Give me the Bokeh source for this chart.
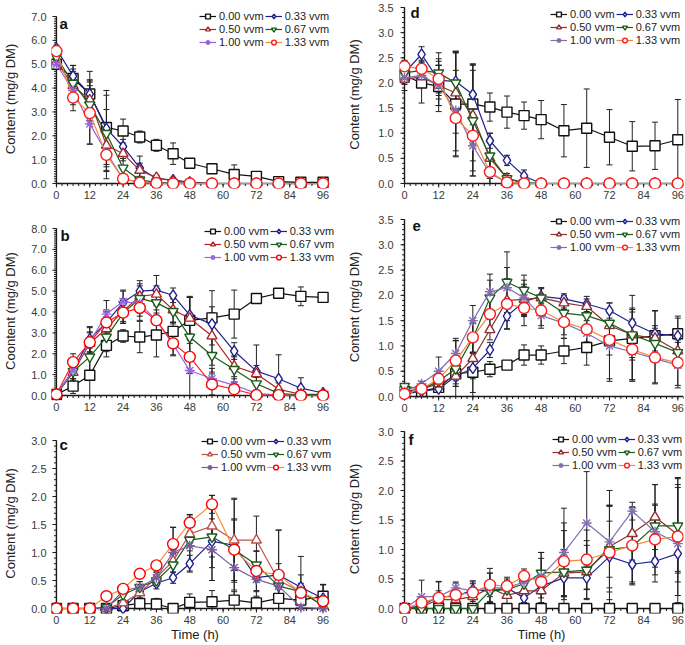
import numpy as np
from bokeh.plotting import figure
from bokeh.models import (Range1d, FixedTicker, SingleIntervalTicker, NumeralTickFormatter,
                          Whisker, TeeHead, ColumnDataSource, Legend, LegendItem, Label)
from bokeh.layouts import row, column
from bokeh.embed import file_html
from bokeh.resources import INLINE

FONT = "Liberation Sans"

# ---------------- data ----------------
time_h = [0, 6, 12, 18, 24, 30, 36, 42, 48, 56, 64, 72, 80, 88, 96]
x_ticks = [0, 12, 24, 36, 48, 60, 72, 84, 96]
series_labels = ["0.00 vvm", "0.33 vvm", "0.50 vvm", "0.67 vvm", "1.00 vvm", "1.33 vvm"]
series_markers = ["square", "diamond", "triangle", "inverted_triangle", "asterisk", "circle"]
marker_sizes = [10, 11, 10, 10, 10, 11]

# panel a
a_000 = [5.0, 4.4, 3.75, 2.35, 2.2, 1.95, 1.6, 1.25, 0.85, 0.62, 0.38, 0.3, 0.08, 0.05, 0.05]
a_033 = [5.65, 4.5, 3.75, 2.3, 1.55, 0.65, 0.2, 0.15, 0.05, 0, 0, 0, 0, 0, 0]
a_050 = [5.1, 4.1, 3.5, 1.6, 1.25, 0.55, 0.25, 0.1, 0.05, 0, 0, 0, 0, 0, 0]
a_067 = [5.3, 4.2, 3.3, 2.1, 0.65, 0.15, 0.05, 0.02, 0, 0, 0, 0, 0, 0, 0]
a_100 = [5.0, 3.9, 2.5, 1.3, 0.2, 0.05, 0.02, 0, 0, 0, 0, 0, 0, 0, 0]
a_133 = [5.55, 3.6, 2.95, 1.2, 0.2, 0.03, 0.02, 0, 0, 0, 0, 0, 0, 0, 0]
a_000_err = [0.15, 0.55, 0.95, 1.55, 0.5, 0.25, 0.25, 0.45, 0.12, 0.12, 0.4, 0.15, 0.05, 0.05, 0.05]
a_033_err = [0.15, 0.45, 0.55, 0.8, 0.3, 0.5, 0.12, 0.1, 0.05, 0, 0, 0, 0, 0, 0]
a_050_err = [0.2, 0.7, 0.85, 0.9, 0.3, 0.3, 0.1, 0.05, 0, 0, 0, 0, 0, 0, 0]
a_067_err = [0.2, 0.5, 0.8, 1.6, 0.4, 0.15, 0.05, 0, 0, 0, 0, 0, 0, 0, 0]
a_100_err = [0.2, 0.6, 0.85, 0.75, 0.2, 0.05, 0, 0, 0, 0, 0, 0, 0, 0, 0]
a_133_err = [0.2, 0.55, 1.3, 1.0, 0.15, 0.05, 0, 0, 0, 0, 0, 0, 0, 0, 0]

# panel b
b_000 = [0.05, 0.45, 0.97, 2.4, 2.85, 2.8, 2.9, 3.07, 3.6, 3.72, 3.9, 4.65, 4.9, 4.75, 4.7]
b_033 = [0.05, 1.2, 2.7, 3.5, 4.45, 5.0, 5.05, 4.8, 3.85, 3.42, 2.13, 1.17, 0.8, 0.35, 0.12]
b_050 = [0.05, 1.1, 2.5, 3.2, 4.05, 4.75, 4.85, 4.1, 3.7, 2.85, 1.4, 1.04, 0.3, 0.05, 0.05]
b_067 = [0.05, 1.15, 1.85, 2.8, 3.95, 4.65, 4.45, 4.03, 2.8, 1.92, 1.25, 0.56, 0.1, 0.02, 0.05]
b_100 = [0.05, 1.2, 2.55, 3.9, 4.5, 4.4, 3.6, 2.45, 1.2, 0.8, 0.5, 0.1, 0.02, 0.0, 0.0]
b_133 = [0.05, 1.6, 2.55, 3.5, 3.97, 4.2, 3.6, 2.5, 1.85, 0.53, 0.3, 0.02, 0.02, 0.0, 0.0]
b_000_err = [0.05, 0.35, 1.3, 0.55, 0.3, 0.75, 1.05, 0.45, 1.1, 1.3, 1.15, 0.1, 0.1, 0.45, 0.1]
b_033_err = [0.05, 0.4, 0.6, 0.6, 0.6, 0.5, 0.7, 0.35, 0.9, 0.55, 0.4, 1.25, 1.15, 0.5, 0.1]
b_050_err = [0.05, 0.5, 0.5, 0.8, 0.5, 0.5, 0.4, 0.6, 1.0, 1.4, 0.5, 0.4, 0.3, 0.05, 0.05]
b_067_err = [0.05, 0.5, 0.9, 0.7, 0.5, 0.7, 0.6, 0.6, 1.0, 0.8, 0.6, 0.3, 0.1, 0.02, 0.05]
b_100_err = [0.05, 0.5, 0.7, 0.65, 0.5, 0.6, 0.5, 0.5, 3.5, 0.5, 0.3, 0.1, 0.02, 0, 0]
b_133_err = [0.05, 0.4, 0.5, 0.5, 0.5, 0.6, 0.7, 0.6, 0.8, 0.5, 0.3, 0.05, 0.02, 0, 0]

# panel c
c_000 = [0, 0, 0, 0, 0.05, 0.09, 0.08, 0.0, 0.11, 0.12, 0.15, 0.1, 0.18, 0.15, 0.22]
c_033 = [0, 0, 0, 0, 0.0, 0.3, 0.45, 0.55, 0.8, 1.2, 1.13, 0.55, 0.6, 0.38, 0.18]
c_050 = [0, 0, 0, 0, 0.1, 0.28, 0.55, 0.85, 1.33, 1.47, 1.22, 1.22, 0.5, 0.3, 0.05]
c_067 = [0, 0, 0, 0.02, 0.25, 0.38, 0.5, 0.78, 1.22, 1.28, 1.05, 0.78, 0.4, 0.3, 0.05]
c_100 = [0, 0, 0, 0, 0.32, 0.38, 0.55, 1.0, 1.12, 1.05, 0.73, 0.52, 0.4, 0.02, 0.0]
c_133 = [0, 0, 0, 0.22, 0.35, 0.62, 0.77, 1.15, 1.53, 1.86, 1.05, 0.67, 0.6, 0.28, 0.13]
c_000_err = [0, 0, 0, 0.05, 0.05, 0.1, 0.1, 0.02, 0.15, 0.2, 0.15, 0.1, 0.2, 0.1, 0.2]
c_033_err = [0, 0, 0, 0, 0.02, 0.05, 0.1, 0.1, 0.15, 0.7, 0.45, 0.25, 0.8, 0.55, 0.25]
c_050_err = [0, 0, 0, 0, 0.05, 0.1, 0.1, 0.2, 0.3, 0.55, 0.75, 0.43, 0.9, 0.3, 0.1]
c_067_err = [0, 0, 0, 0.02, 0.1, 0.1, 0.1, 0.2, 0.45, 0.55, 0.55, 0.25, 0.2, 0.15, 0.05]
c_100_err = [0, 0, 0, 0, 0.05, 0.1, 0.1, 0.45, 0.45, 0.55, 0.4, 0.3, 0.2, 0.05, 0.02]
c_133_err = [0, 0, 0, 0.05, 0.05, 0.05, 0.05, 0.3, 0.15, 0.16, 0.9, 0.35, 0.2, 0.1, 0.3]

# panel d
d_000 = [2.15, 2.0, 1.93, 1.58, 1.58, 1.52, 1.42, 1.35, 1.27, 1.05, 1.1, 0.92, 0.74, 0.75, 0.87]
d_033 = [2.2, 2.57, 2.05, 2.03, 1.77, 0.85, 0.46, 0.15, 0, 0, 0, 0, 0, 0, 0]
d_050 = [2.07, 2.12, 1.95, 1.8, 1.35, 0.5, 0.1, 0, 0, 0, 0, 0, 0, 0, 0]
d_067 = [2.2, 2.25, 2.2, 2.0, 1.25, 0.55, 0.1, 0.02, 0, 0, 0, 0, 0, 0, 0]
d_100 = [2.1, 2.15, 1.95, 1.45, 0.75, 0.2, 0.02, 0, 0, 0, 0, 0, 0, 0, 0]
d_133 = [2.33, 2.28, 2.08, 1.3, 0.95, 0.23, 0.02, 0, 0, 0, 0, 0, 0, 0, 0]
d_000_err = [0.3, 0.4, 0.5, 1.05, 0.8, 0.28, 0.32, 0.27, 0.38, 0.52, 0.78, 0.55, 0.49, 0.47, 0.8]
d_033_err = [0.1, 0.15, 0.3, 0.6, 0.6, 0.15, 0.1, 0.12, 0, 0, 0, 0, 0, 0, 0]
d_050_err = [0.1, 0.2, 0.4, 0.8, 0.9, 0.4, 0.1, 0, 0, 0, 0, 0, 0, 0, 0]
d_067_err = [0.1, 0.2, 0.4, 0.6, 1.1, 0.45, 0.1, 0.02, 0, 0, 0, 0, 0, 0, 0]
d_100_err = [0.1, 0.2, 0.4, 0.8, 0.6, 0.3, 0.05, 0, 0, 0, 0, 0, 0, 0, 0]
d_133_err = [0.1, 0.3, 0.4, 0.75, 0.7, 0.3, 0.05, 0, 0, 0, 0, 0, 0, 0, 0]

# panel e
e_000 = [0.1, 0.1, 0.18, 0.45, 0.48, 0.54, 0.62, 0.82, 0.82, 0.9, 0.97, 1.1, 1.15, 1.2, 1.24]
e_033 = [0.05, 0.1, 0.15, 0.4, 0.56, 0.92, 1.59, 1.88, 1.98, 1.93, 1.83, 1.7, 1.45, 1.24, 1.2]
e_050 = [0.1, 0.15, 0.25, 0.4, 0.75, 1.32, 1.9, 1.92, 1.95, 1.85, 1.78, 1.4, 1.22, 1.15, 0.9]
e_067 = [0.2, 0.15, 0.3, 0.55, 1.15, 1.95, 2.26, 2.1, 1.95, 1.65, 1.6, 1.45, 1.22, 1.05, 0.87]
e_100 = [0.1, 0.25, 0.5, 0.85, 1.5, 2.07, 2.15, 1.95, 1.6, 1.45, 1.25, 1.0, 0.88, 0.75, 0.62]
e_133 = [0.05, 0.15, 0.35, 0.71, 1.17, 1.63, 1.83, 1.75, 1.7, 1.47, 1.33, 1.12, 0.93, 0.77, 0.67]
e_000_err = [0.05, 0.05, 0.1, 0.2, 0.4, 0.15, 0.05, 0.2, 0.18, 0.25, 0.35, 0.75, 0.85, 0.5, 0.35]
e_033_err = [0.05, 0.05, 0.05, 0.2, 0.6, 0.15, 0.25, 0.3, 0.15, 0.1, 0.15, 0.15, 0.3, 0.45, 0.35]
e_050_err = [0.05, 0.05, 0.1, 0.2, 0.4, 0.2, 0.4, 0.3, 0.2, 0.15, 0.15, 0.25, 0.5, 0.25, 0.3]
e_067_err = [0.05, 0.05, 0.1, 0.6, 0.3, 0.35, 0.6, 0.3, 0.2, 0.2, 0.2, 0.25, 0.45, 0.3, 0.3]
e_100_err = [0.05, 0.05, 0.28, 0.25, 0.3, 0.35, 0.4, 0.35, 0.25, 0.3, 0.25, 0.7, 0.55, 0.5, 0.45]
e_133_err = [0.05, 0.05, 0.15, 0.4, 0.3, 0.3, 0.5, 0.35, 0.3, 0.25, 0.25, 0.3, 0.6, 0.5, 0.45]

# panel f
f_000 = [0.0, 0.0, 0.0, 0.0, 0.0, 0.0, 0.0, 0.0, 0.0, 0.0, 0.0, 0.0, 0.0, 0.0, 0.0]
f_033 = [0, 0.05, 0.2, 0.2, 0.32, 0.3, 0.35, 0.18, 0.38, 0.52, 0.52, 0.88, 0.75, 0.8, 0.93]
f_050 = [0, 0.03, 0.15, 0.15, 0.2, 0.35, 0.22, 0.3, 0.3, 0.6, 0.62, 1.05, 1.27, 1.55, 1.25]
f_067 = [0, 0, 0, 0, 0, 0.3, 0.32, 0.42, 0.6, 0.62, 0.65, 1.0, 1.05, 1.4, 1.4]
f_100 = [0, 0.2, 0.2, 0.35, 0.3, 0.35, 0.35, 0.45, 0.55, 0.95, 1.45, 1.13, 1.65, 1.3, 1.1]
f_133 = [0, 0.1, 0.18, 0.23, 0.27, 0.4, 0.38, 0.55, 0.45, 0.8, 0.83, 0.95, 1.07, 1.17, 1.22]
f_000_err = [0, 0, 0, 0, 0, 0, 0, 0, 0, 0, 0, 0, 0, 0, 0]
f_033_err = [0, 0.05, 0.1, 0.1, 0.15, 0.1, 0.1, 0.15, 0.2, 0.3, 0.2, 0.6, 0.35, 0.35, 0.3]
f_050_err = [0, 0.05, 0.1, 0.1, 0.15, 0.1, 0.15, 0.2, 0.2, 0.4, 0.45, 0.7, 0.45, 0.55, 0.8]
f_067_err = [0, 0, 0, 0, 0, 0.3, 0.15, 0.2, 0.35, 0.7, 0.5, 1.0, 0.6, 0.7, 0.8]
f_100_err = [0, 0.28, 0.25, 0.1, 0.15, 0.25, 0.15, 0.15, 0.3, 0.75, 0.87, 0.6, 0.15, 0.45, 1.0]
f_133_err = [0, 0.05, 0.28, 0.2, 0.15, 0.28, 0.15, 0.12, 0.5, 0.65, 0.5, 0.8, 0.65, 0.6, 1.0]

# ---------------- styling ----------------
COL_A = ["#111111", "#1f1f8c", "#a52a2a", "#1a5c1a", "#9a60d8", "#ff1a1a"]
LINE_A = ["#111111", "#1f1f8c", "#a52a2a", "#1a5c1a", "#9a60d8", "#f0883a"]
COL_B = ["#111111", "#1f1f8c", "#b22222", "#1a5c1a", "#9966dd", "#ff0000"]
LINE_B = ["#111111", "#1f1f8c", "#b22222", "#1a5c1a", "#9966dd", "#ff2020"]
COL_C = ["#111111", "#1f1f8c", "#c0504d", "#1a5c1a", "#7a5c9e", "#ff0000"]
LINE_C = ["#111111", "#1f1f8c", "#c0504d", "#1a5c1a", "#7a5c9e", "#f59040"]
COL_D = ["#111111", "#23238f", "#8b3030", "#1a5c1a", "#8470b0", "#ff1a1a"]
LINE_D = ["#111111", "#23238f", "#8b3030", "#1a5c1a", "#8470b0", "#f0883a"]
AXIS_COL = "#1a1a1a"
PAD = 5          # px between frame edge and the drawn axis lines (left / bottom)
TOPPAD = 7       # px of frame above the top tick (room for the legend)
XEND = 98


def make_panel(letter, ylabel, ymax, ystep, means, errs, cols, lcols,
               width, height, b_left, b_right, rpad, b_top, b_bottom,
               tick_standoff, ylab_standoff, legend_top, legend_left,
               letter_dx, letter_dy, xlabel=None):
    # b_top is the distance from the figure top to the top tick (ymax)
    top_border = b_top - TOPPAD
    frame_w = width - b_left - b_right
    frame_h = height - top_border - b_bottom
    xs = (frame_w - PAD - rpad) / XEND           # px per hour
    ys = (frame_h - PAD - TOPPAD) / ymax         # px per unit
    p = figure(width=width, height=height, output_backend="svg", toolbar_location=None,
               x_range=Range1d(-PAD / xs, XEND + rpad / xs),
               y_range=Range1d(-PAD / ys, ymax + TOPPAD / ys),
               min_border_left=b_left, min_border_right=b_right,
               min_border_top=top_border, min_border_bottom=b_bottom)
    p.outline_line_color = None
    p.xgrid.grid_line_color = None
    p.ygrid.grid_line_color = None
    p.border_fill_color = "white"
    p.background_fill_color = "white"

    # built-in axes only carry the labels
    xa = p.xaxis[0]
    xa.ticker = FixedTicker(ticks=x_ticks)
    xa.bounds = (0, XEND)
    xa.axis_line_color = None
    xa.major_tick_line_color = None
    xa.minor_tick_line_color = None
    xa.major_tick_out = 0
    xa.major_tick_in = 0
    xa.minor_tick_out = 0
    xa.minor_tick_in = 0
    xa.major_label_standoff = 2
    xa.major_label_text_font = FONT
    xa.major_label_text_font_size = "11px"
    xa.major_label_text_color = "#3a3a3a"
    if xlabel:
        xa.axis_label = xlabel
        xa.axis_label_text_font = FONT
        xa.axis_label_text_font_size = "13px"
        xa.axis_label_text_font_style = "normal"
        xa.axis_label_text_color = "#222222"
        xa.axis_label_standoff = 0

    ya = p.yaxis[0]
    ya.ticker = SingleIntervalTicker(interval=ystep, num_minor_ticks=0)
    ya.formatter = NumeralTickFormatter(format="0.0")
    ya.bounds = (0, ymax)
    ya.axis_line_color = None
    ya.major_tick_line_color = None
    ya.minor_tick_line_color = None
    ya.major_tick_out = 0
    ya.major_tick_in = 0
    ya.minor_tick_out = 0
    ya.minor_tick_in = 0
    ya.major_label_standoff = tick_standoff
    ya.major_label_text_font = FONT
    ya.major_label_text_font_size = "11px"
    ya.major_label_text_color = "#3a3a3a"
    ya.axis_label = ylabel
    ya.axis_label_text_font = FONT
    ya.axis_label_text_font_size = "13px"
    ya.axis_label_text_font_style = "normal"
    ya.axis_label_text_color = "#222222"
    ya.axis_label_standoff = ylab_standoff

    # drawn axis lines and outward ticks at x = 0 and y = 0
    ymaj = np.arange(0, ymax + 1e-9, ystep)
    ymin = np.arange(0, ymax + 1e-9, 0.1)
    xmin = np.arange(0, XEND + 1e-9, 2.0)
    xmaj = np.array(x_ticks, dtype=float)
    p.segment(x0=[0], y0=[0], x1=[0], y1=[ymax], line_color=AXIS_COL, line_width=1.4)
    p.segment(x0=[0], y0=[0], x1=[XEND], y1=[0], line_color=AXIS_COL, line_width=1.4)
    p.segment(x0=np.full(len(ymin), -2.5 / xs), y0=ymin, x1=np.zeros(len(ymin)), y1=ymin,
              line_color=AXIS_COL, line_width=1)
    p.segment(x0=np.full(len(ymaj), -4.0 / xs), y0=ymaj, x1=np.zeros(len(ymaj)), y1=ymaj,
              line_color=AXIS_COL, line_width=1)
    p.segment(x0=xmin, y0=np.full(len(xmin), -2.5 / ys), x1=xmin, y1=np.zeros(len(xmin)),
              line_color=AXIS_COL, line_width=1)
    p.segment(x0=xmaj, y0=np.full(len(xmaj), -4.0 / ys), x1=xmaj, y1=np.zeros(len(xmaj)),
              line_color=AXIS_COL, line_width=1)

    t = np.array(time_h, dtype=float)
    items = []
    for i in range(6):
        m = np.array(means[i], dtype=float)
        e = np.array(errs[i], dtype=float)
        ln = p.line(t, m, line_color=lcols[i], line_width=1.2)
        mask = e > 0
        src = ColumnDataSource(dict(base=t[mask], upper=(m + e)[mask],
                                    lower=np.clip(m - e, 0, None)[mask]))
        wk = Whisker(source=src, base="base", upper="upper", lower="lower",
                     dimension="height", line_color="#222222", line_width=1,
                     upper_head=TeeHead(size=6, line_color="#222222", line_width=1),
                     lower_head=TeeHead(size=6, line_color="#222222", line_width=1))
        p.add_layout(wk)
        sc = p.scatter(t, m, marker=series_markers[i], size=marker_sizes[i],
                       line_color=cols[i], fill_color="white", line_width=1.4)
        items.append(LegendItem(label=series_labels[i], renderers=[ln, sc]))

    legend_h = 3 * 12 + 2 * 1
    leg = Legend(items=items,
                 location=(legend_left, frame_h - TOPPAD - legend_top - legend_h),
                 orientation="horizontal", ncols=2,
                 glyph_width=17, glyph_height=12, label_height=12, label_standoff=3,
                 spacing=1, padding=0, margin=0,
                 label_text_font=FONT, label_text_font_size="11px",
                 label_text_color="#222222",
                 background_fill_alpha=0, border_line_color=None)
    p.add_layout(leg)

    p.add_layout(Label(x=letter_dx / xs, y=ymax - letter_dy / ys, text=letter,
                       text_font=FONT, text_font_style="bold",
                       text_font_size="15px", text_baseline="alphabetic",
                       text_color="#111111"))
    return p


LW, LBL, LBR, LRP = 340, 47, 2, 10
RW, RBL, RBR, RRP = 345, 59, 2, 0

pa = make_panel("a", "Content (mg/g DM)", 7.0, 1.0,
                [a_000, a_033, a_050, a_067, a_100, a_133],
                [a_000_err, a_033_err, a_050_err, a_067_err, a_100_err, a_133_err],
                COL_A, LINE_A, LW, 206, LBL, LBR, LRP, 16, 18, 5, 10, -6.5, 148, 3, 7)
pb = make_panel("b", "Coontent (mg/g DM)", 8.0, 1.0,
                [b_000, b_033, b_050, b_067, b_100, b_133],
                [b_000_err, b_033_err, b_050_err, b_067_err, b_100_err, b_133_err],
                COL_B, LINE_B, LW, 210, LBL, LBR, LRP, 22, 16, 5, 10, -3.5, 153, 4, 7)
pc = make_panel("c", "Content (mg/g DM)", 3.0, 0.5,
                [c_000, c_033, c_050, c_067, c_100, c_133],
                [c_000_err, c_033_err, c_050_err, c_067_err, c_100_err, c_133_err],
                COL_C, LINE_C, LW, 228, LBL, LBR, LRP, 24, 31, 5, 10, -5.5, 150, 3, 4,
                xlabel="Time (h)")
pd_ = make_panel("d", "Content (mg/g DM)", 3.5, 0.5,
                 [d_000, d_033, d_050, d_067, d_100, d_133],
                 [d_000_err, d_033_err, d_050_err, d_067_err, d_100_err, d_133_err],
                 COL_D, LINE_D, RW, 206, RBL, RBR, RRP, 7, 18, 6, 13, 0.8, 151, 6, 5)
pe = make_panel("e", "Content (mg/g DM)", 3.5, 0.5,
                [e_000, e_033, e_050, e_067, e_100, e_133],
                [e_000_err, e_033_err, e_050_err, e_067_err, e_100_err, e_133_err],
                COL_D, LINE_D, RW, 210, RBL, RBR, RRP, 13, 15, 6, 13, -4.5, 151, 8, 6)
pf = make_panel("f", "Content (mg/g DM)", 3.0, 0.5,
                [f_000, f_033, f_050, f_067, f_100, f_133],
                [f_000_err, f_033_err, f_050_err, f_067_err, f_100_err, f_133_err],
                COL_D, LINE_D, RW, 228, RBL, RBR, RRP, 15, 31, 6, 13, 1.8, 153, 4, 8,
                xlabel="Time (h)")

layout = row(column(pa, pb, pc, spacing=0), column(pd_, pe, pf, spacing=0), spacing=0)

with open("out.html", "w") as fh:
    fh.write(file_html(layout, INLINE))
